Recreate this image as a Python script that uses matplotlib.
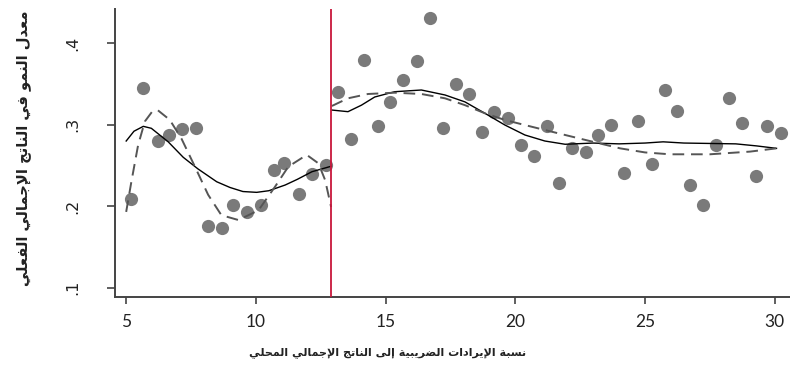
import matplotlib
matplotlib.use('Agg')
from matplotlib import pyplot as plt

# binned scatter, left of the cutoff
left_x = [5.18, 5.63, 6.21, 6.66, 7.15, 7.69, 8.15, 8.69, 9.13, 9.65, 10.19, 10.68, 11.10, 11.67, 12.18, 12.69]
left_y = [0.209, 0.345, 0.280, 0.287, 0.295, 0.296, 0.176, 0.173, 0.201, 0.193, 0.201, 0.245, 0.253, 0.215, 0.240, 0.251]

# binned scatter, right of the cutoff
right_x = [13.18, 13.67, 14.18, 14.70, 15.17, 15.69, 16.20, 16.72, 17.20, 17.72, 18.22, 18.71,
           19.19, 19.71, 20.21, 20.73, 21.21, 21.70, 22.18, 22.71, 23.18, 23.69, 24.20, 24.72,
           25.26, 25.77, 26.22, 26.73, 27.22, 27.73, 28.23, 28.74, 29.27, 29.71, 30.25]
right_y = [0.340, 0.283, 0.379, 0.299, 0.328, 0.355, 0.378, 0.431, 0.296, 0.350, 0.338, 0.291,
           0.315, 0.308, 0.275, 0.262, 0.298, 0.228, 0.271, 0.267, 0.287, 0.300, 0.241, 0.305,
           0.252, 0.342, 0.317, 0.226, 0.201, 0.275, 0.333, 0.302, 0.237, 0.299, 0.290]

# fitted curves (solid and dashed)
solid_left_x = [5.0, 5.3, 5.66, 5.97, 6.62, 7.2, 7.77, 8.49, 9.0, 9.5, 10.03, 10.5, 11.13, 11.6, 12.16, 12.9]
solid_left_y = [0.280, 0.292, 0.298, 0.2956, 0.279, 0.260, 0.2457, 0.230, 0.223, 0.218, 0.217, 0.219,
                0.226, 0.233, 0.2423, 0.249]
dashed_left_x = [5.0, 5.2, 5.46, 5.72, 6.0, 6.21, 6.68, 7.13, 7.65, 8.16, 8.67, 9.33, 10.1, 10.74,
                 11.25, 11.96, 12.41, 12.67, 12.9]
dashed_left_y = [0.193, 0.230, 0.275, 0.304, 0.316, 0.318, 0.306, 0.283, 0.2485, 0.214, 0.189, 0.183,
                 0.195, 0.224, 0.2485, 0.263, 0.2526, 0.232, 0.199]
solid_right_x = [12.93, 13.55, 14.07, 14.58, 15.35, 16.38, 17.29, 18.06, 18.83, 19.6, 20.37, 21.14,
                 21.92, 23.0, 24.0, 25.0, 25.7, 26.5, 27.5, 28.5, 29.3, 30.07]
solid_right_y = [0.318, 0.316, 0.324, 0.334, 0.3405, 0.3426, 0.3365, 0.328, 0.314, 0.2996, 0.2874, 0.280,
                 0.276, 0.2775, 0.2765, 0.2775, 0.279, 0.2775, 0.277, 0.2765, 0.274, 0.271]
dashed_right_x = [12.93, 13.55, 14.32, 15.35, 16.38, 17.29, 18.06, 18.83, 19.6, 20.37, 21.14, 21.92,
                  23.0, 24.04, 25.0, 25.96, 27.5, 29.05, 30.07]
dashed_right_y = [0.323, 0.3324, 0.3377, 0.3393, 0.3377, 0.3324, 0.324, 0.314, 0.3058, 0.2996, 0.2935,
                  0.2874, 0.279, 0.271, 0.266, 0.2637, 0.2637, 0.267, 0.271]

cutoff = 12.9
x_ticks = [5, 10, 15, 20, 25, 30]
y_ticks = [0.1, 0.2, 0.3, 0.4]
y_tick_labels = ['.1', '.2', '.3', '.4']
x_label = 'نسبة الإيرادات الضريبية إلى الناتج الإجمالي المحلي'
y_label = 'معدل النمو في الناتج الإجمالي الفعلي'

# matplotlib does no Arabic shaping, so pick presentation forms by hand
FORM_LETTERS = 'آأؤإئابةتثجحخدذرزسشصضطظعغفقكلمنهوىي'
FORM_COUNTS = [2, 2, 2, 2, 4, 2, 4, 2, 4, 4, 4, 4, 4, 2, 2, 2, 2, 4, 4, 4, 4, 4, 4, 4, 4, 4, 4, 4, 4, 4, 4, 4, 2, 2, 4]
LAM_ALEF = {'آ': 0xFEF5, 'أ': 0xFEF7, 'إ': 0xFEF9, 'ا': 0xFEFB}

FORMS = {}
code = 0xFE81
for letter, count in zip(FORM_LETTERS, FORM_COUNTS):
    FORMS[letter] = (code, count)
    code += count


def shape_arabic(text: str) -> str:
    out = []
    i = 0
    while i < len(text):
        ch = text[i]
        prev = text[i - 1] if i > 0 else ''
        nxt = text[i + 1] if i + 1 < len(text) else ''
        joins_prev = prev in FORMS and FORMS[prev][1] == 4
        if ch not in FORMS:
            out.append(ch)
            i += 1
            continue
        if ch == 'ل' and nxt in LAM_ALEF:
            out.append(chr(LAM_ALEF[nxt] + (1 if joins_prev else 0)))
            i += 2
            continue
        base, count = FORMS[ch]
        joins_next = count == 4 and nxt in FORMS
        if joins_prev and joins_next:
            form = 3
        elif joins_prev:
            form = 1
        elif joins_next:
            form = 2
        else:
            form = 0
        out.append(chr(base + form))
        i += 1
    return ''.join(out)[::-1]


fig = plt.figure(figsize=(7.9, 3.85), dpi=100)
ax = fig.add_axes([0.1456, 0.2278, 0.8544, 0.7488])

point_color = '#7a7a7a'
ax.plot(left_x, left_y, 'o', color=point_color, markersize=9.5, markeredgewidth=0, zorder=2)
ax.plot(right_x, right_y, 'o', color=point_color, markersize=9.5, markeredgewidth=0, zorder=2)

ax.plot(solid_left_x, solid_left_y, color='black', linewidth=1.0, zorder=3)
ax.plot(solid_right_x, solid_right_y, color='black', linewidth=1.0, zorder=3)
ax.plot(dashed_left_x, dashed_left_y, color='#555555', linewidth=1.4, dashes=(6, 3.5), zorder=3)
ax.plot(dashed_right_x, dashed_right_y, color='#555555', linewidth=1.4, dashes=(6, 3.5), zorder=3)

ax.axvline(cutoff, color='#c8173c', linewidth=1.3, zorder=4)

ax.set_xlim(4.57, 30.59)
ax.set_ylim(0.0882, 0.442)

for side in ['top', 'right']:
    ax.spines[side].set_visible(False)
for side in ['left', 'bottom']:
    ax.spines[side].set_color('#444444')
    ax.spines[side].set_linewidth(1.4)

ax.set_xticks(x_ticks)
ax.set_xticklabels([str(t) for t in x_ticks], fontfamily='Lato', fontsize=12.5, color='#222222')
ax.set_yticks(y_ticks)
ax.set_yticklabels(y_tick_labels, rotation=90, va='center', fontfamily='DejaVu Sans',
                   fontsize=11.5, color='#222222')
ax.tick_params(axis='x', length=5, width=1.2, color='#444444', pad=7)
ax.tick_params(axis='y', length=6, width=1.2, color='#444444', pad=19)

fig.text(0.491, 0.083, shape_arabic(x_label), ha='center', va='center',
         fontfamily='DejaVu Sans', fontsize=8, fontweight='bold', color='#222222')
fig.text(0.03, 0.616, shape_arabic(y_label), ha='center', va='center', rotation=90,
         fontfamily='DejaVu Sans', fontsize=10.6, fontweight='bold', color='#222222')

fig.savefig('out.png', dpi=100)
